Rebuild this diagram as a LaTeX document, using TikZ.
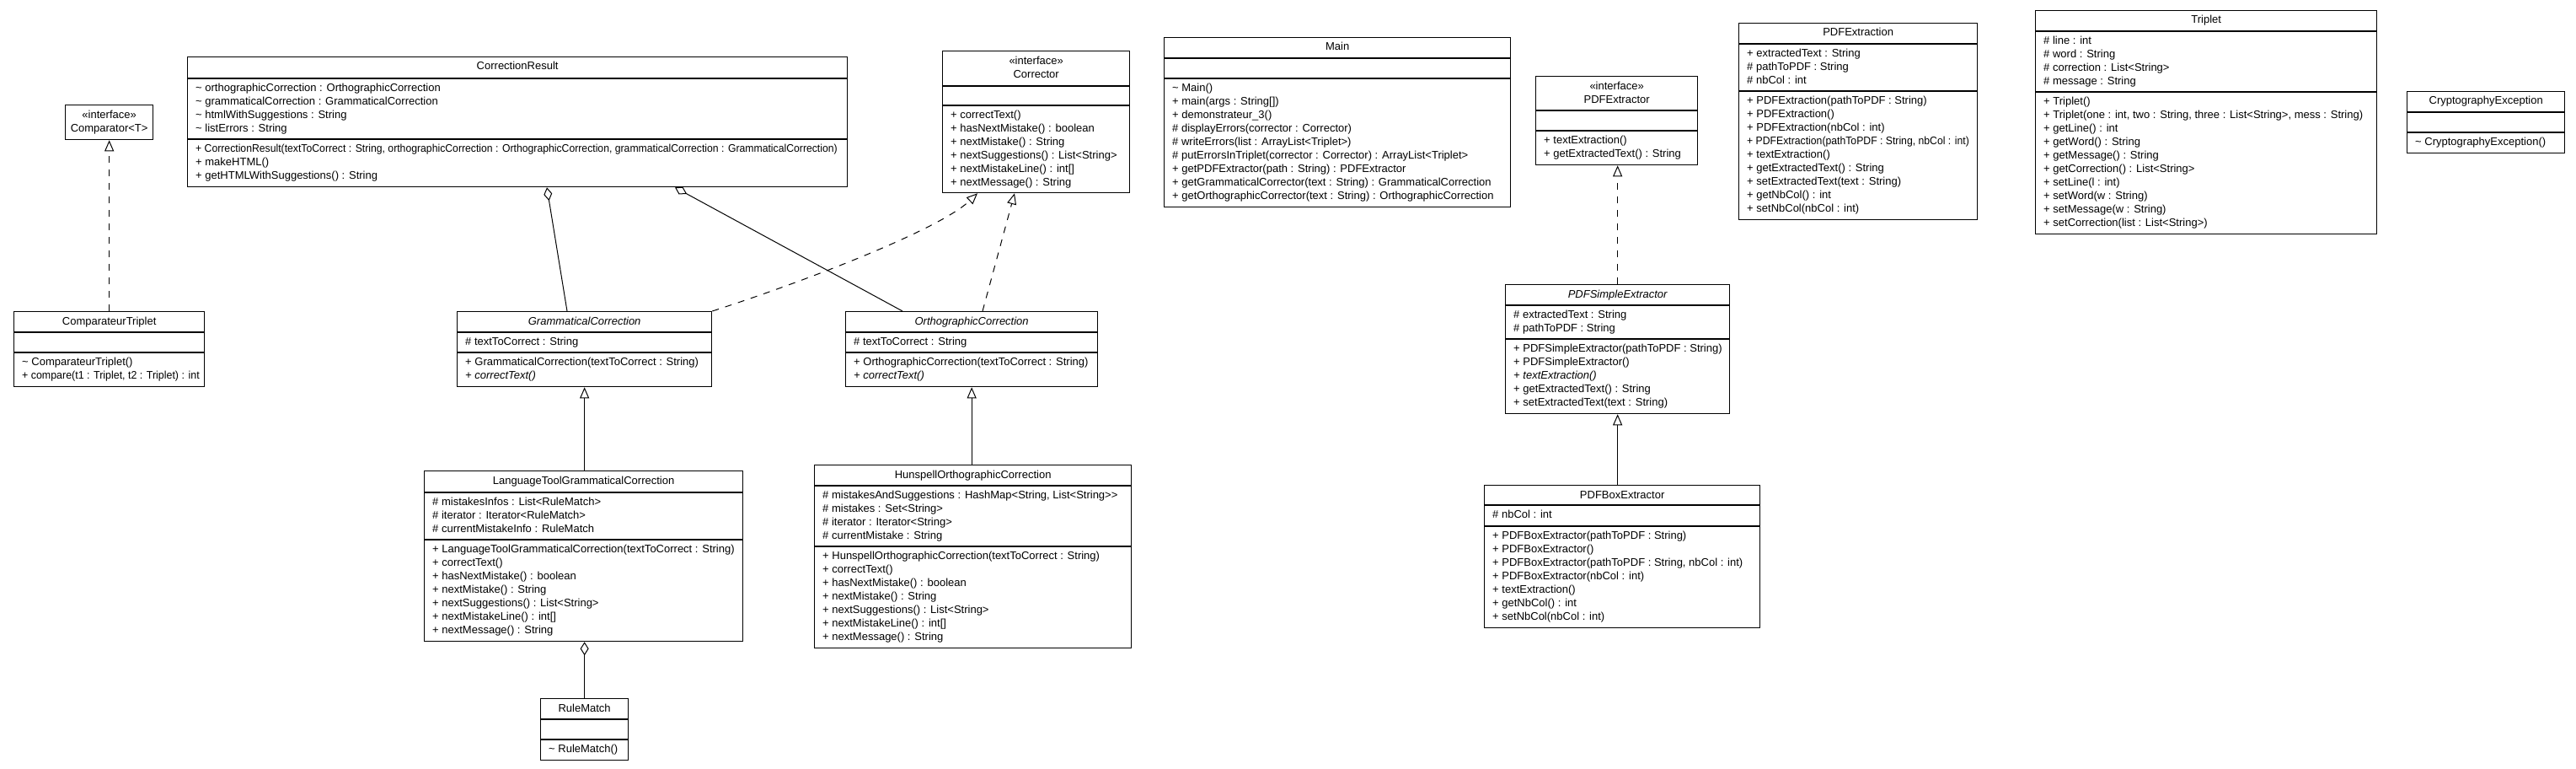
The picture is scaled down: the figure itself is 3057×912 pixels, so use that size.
\documentclass[tikz,border=0pt]{standalone}
\usepackage{fontspec}
\usepackage{graphicx}
\setmainfont{Liberation Sans}
\usetikzlibrary{arrows.meta}
\tikzset{
  cbox/.style={draw=black, line width=1.3pt, fill=white, inner sep=0pt, rectangle},
  cline/.style={line width=1.3pt},
  ctext/.style={inner sep=0pt, font=\fontsize{13}{16}\selectfont},
  inherit/.style={line width=1pt, -{Triangle[fill=white, length=13pt, width=11pt]}},
  realize/.style={inherit, dash pattern=on 8pt off 8pt},
  aggr/.style={line width=1pt, {Diamond[fill=white, length=16pt, width=10pt]}-},
}
% name, x1, x2, ytop, header h, attr h, meth h
\newcommand{\umlclass}[7]{%
  \pgfmathsetmacro{\cbw}{#3-#2}%
  \pgfmathsetmacro{\cbh}{#5+#6+#7}%
  \node[cbox, minimum width=\cbw pt, minimum height=\cbh pt, anchor=north west] (#1) at (#2,#4) {};%
  \ifnum#6>0 \draw[cline] (#2,#4+#5) -- (#3,#4+#5);\fi
  \ifnum#7>0 \draw[cline] (#2,#4+#5+#6) -- (#3,#4+#5+#6);\fi
}
\newcommand{\uhead}[2]{\node[ctext, anchor=base] (#1-h) at ([yshift=-16pt]#1.north) {#2};}
\newcommand{\uheadII}[2]{\node[ctext, anchor=base] (#1-h) at ([yshift=-16.5pt]#1.north) {\parbox[t]{400pt}{\centering «interface»\\#2}};}
\newcommand{\ulines}[4]{\node[ctext, anchor=base west] (#1-#2) at ([xshift=10pt,yshift={-(#3)*1pt}]#1.north west) {\parbox[t]{900pt}{\raggedright #4}};}
\newcommand{\tl}{\textasciitilde}
\newcommand{\squeeze}[2]{\scalebox{#1}[1]{#2}}
\begin{document}
\begin{tikzpicture}[x=1pt, y=-1pt]
\useasboundingbox (0,0) rectangle (3057,912);

% ---------- classes ----------
\umlclass{Comparator}{77}{181}{124}{41}{0}{0}
\uheadII{Comparator}{Comparator<T>}

\umlclass{CT}{16}{242}{369}{25}{24}{40}
\uhead{CT}{ComparateurTriplet}
\ulines{CT}{m}{64.5}{\tl{} ComparateurTriplet()\\\squeeze{0.955}{+ compare(t1 : Triplet, t2 : Triplet) : int}}

\umlclass{CR}{222}{1005}{67}{26}{72}{56}
\uhead{CR}{CorrectionResult}
\ulines{CR}{a}{41.5}{\tl{} orthographicCorrection : OrthographicCorrection\\\tl{} grammaticalCorrection : GrammaticalCorrection\\\tl{} htmlWithSuggestions : String\\\tl{} listErrors : String}
\ulines{CR}{m}{113.5}{\squeeze{0.94}{+ CorrectionResult(textToCorrect : String, orthographicCorrection : OrthographicCorrection, grammaticalCorrection : GrammaticalCorrection)}\\+ makeHTML()\\+ getHTMLWithSuggestions() : String}

\umlclass{Corrector}{1118}{1340}{60}{42}{23}{103}
\uheadII{Corrector}{Corrector}
\ulines{Corrector}{m}{80.5}{+ correctText()\\+ hasNextMistake() : boolean\\+ nextMistake() : String\\+ nextSuggestions() : List<String>\\+ nextMistakeLine() : int[]\\+ nextMessage() : String}

\umlclass{Main}{1381}{1792}{44}{25}{24}{152}
\uhead{Main}{Main}
\ulines{Main}{m}{64.5}{\tl{} Main()\\+ main(args : String[])\\+ demonstrateur\_3()\\\# displayErrors(corrector : Corrector)\\\# writeErrors(list : ArrayList<Triplet>)\\\# putErrorsInTriplet(corrector : Corrector) : ArrayList<Triplet>\\+ getPDFExtractor(path : String) : PDFExtractor\\+ getGrammaticalCorrector(text : String) : GrammaticalCorrection\\+ getOrthographicCorrector(text : String) : OrthographicCorrection}

\umlclass{PDFExtractor}{1822}{2014}{90}{41}{24}{40}
\uheadII{PDFExtractor}{PDFExtractor}
\ulines{PDFExtractor}{m}{80.5}{+ textExtraction()\\+ getExtractedText() : String}

\umlclass{PDFExtraction}{2063}{2346}{27}{25}{56}{152}
\uhead{PDFExtraction}{PDFExtraction}
\ulines{PDFExtraction}{a}{40.5}{+ extractedText : String\\\# pathToPDF : String\\\# nbCol : int}
\ulines{PDFExtraction}{m}{96.5}{+ PDFExtraction(pathToPDF : String)\\+ PDFExtraction()\\+ PDFExtraction(nbCol : int)\\\squeeze{0.94}{+ PDFExtraction(pathToPDF : String, nbCol : int)}\\+ textExtraction()\\+ getExtractedText() : String\\+ setExtractedText(text : String)\\+ getNbCol() : int\\+ setNbCol(nbCol : int)}

\umlclass{Triplet}{2415}{2820}{12}{25}{72}{168}
\uhead{Triplet}{Triplet}
\ulines{Triplet}{a}{40.5}{\# line : int\\\# word : String\\\# correction : List<String>\\\# message : String}
\ulines{Triplet}{m}{112.5}{+ Triplet()\\+ Triplet(one : int, two : String, three : List<String>, mess : String)\\+ getLine() : int\\+ getWord() : String\\+ getMessage() : String\\+ getCorrection() : List<String>\\+ setLine(l : int)\\+ setWord(w : String)\\+ setMessage(w : String)\\+ setCorrection(list : List<String>)}

\umlclass{Crypto}{2856}{3043}{108}{25}{24}{24}
\uhead{Crypto}{CryptographyException}
\ulines{Crypto}{m}{64.5}{\tl{} CryptographyException()}

\umlclass{Gramm}{542}{844}{369}{25}{24}{40}
\uhead{Gramm}{\itshape GrammaticalCorrection}
\ulines{Gramm}{a}{40.5}{\# textToCorrect : String}
\ulines{Gramm}{m}{64.5}{+ GrammaticalCorrection(textToCorrect : String)\\\textit{+ correctText()}}

\umlclass{Ortho}{1003}{1302}{369}{25}{24}{40}
\uhead{Ortho}{\itshape OrthographicCorrection}
\ulines{Ortho}{a}{40.5}{\# textToCorrect : String}
\ulines{Ortho}{m}{64.5}{+ OrthographicCorrection(textToCorrect : String)\\\textit{+ correctText()}}

\umlclass{LT}{503}{881}{558}{26}{56}{120}
\uhead{LT}{LanguageToolGrammaticalCorrection}
\ulines{LT}{a}{41.5}{\# mistakesInfos : List<RuleMatch>\\\# iterator : Iterator<RuleMatch>\\\# currentMistakeInfo : RuleMatch}
\ulines{LT}{m}{97.5}{+ LanguageToolGrammaticalCorrection(textToCorrect : String)\\+ correctText()\\+ hasNextMistake() : boolean\\+ nextMistake() : String\\+ nextSuggestions() : List<String>\\+ nextMistakeLine() : int[]\\+ nextMessage() : String}

\umlclass{Hun}{966}{1342}{551}{25}{72}{120}
\uhead{Hun}{HunspellOrthographicCorrection}
\ulines{Hun}{a}{40.5}{\# mistakesAndSuggestions : HashMap<String, List<String>{}>\\\# mistakes : Set<String>\\\# iterator : Iterator<String>\\\# currentMistake : String}
\ulines{Hun}{m}{112.5}{+ HunspellOrthographicCorrection(textToCorrect : String)\\+ correctText()\\+ hasNextMistake() : boolean\\+ nextMistake() : String\\+ nextSuggestions() : List<String>\\+ nextMistakeLine() : int[]\\+ nextMessage() : String}

\umlclass{RuleMatch}{641}{745}{828}{25}{24}{24}
\uhead{RuleMatch}{RuleMatch}
\ulines{RuleMatch}{m}{64.5}{\tl{} RuleMatch()}

\umlclass{PDFSimple}{1786}{2052}{337}{25}{40}{88}
\uhead{PDFSimple}{\itshape PDFSimpleExtractor}
\ulines{PDFSimple}{a}{40.5}{\# extractedText : String\\\# pathToPDF : String}
\ulines{PDFSimple}{m}{80.5}{+ PDFSimpleExtractor(pathToPDF : String)\\+ PDFSimpleExtractor()\\\textit{+ textExtraction()}\\+ getExtractedText() : String\\+ setExtractedText(text : String)}

\umlclass{PDFBox}{1761}{2088}{575}{24}{25}{120}
\uhead{PDFBox}{PDFBoxExtractor}
\ulines{PDFBox}{a}{39.5}{\# nbCol : int}
\ulines{PDFBox}{m}{64.5}{+ PDFBoxExtractor(pathToPDF : String)\\+ PDFBoxExtractor()\\+ PDFBoxExtractor(pathToPDF : String, nbCol : int)\\+ PDFBoxExtractor(nbCol : int)\\+ textExtraction()\\+ getNbCol() : int\\+ setNbCol(nbCol : int)}

% ---------- connectors ----------
\draw[realize] (CT.north) -- (Comparator.south);
\draw[aggr] ([xshift=427pt]CR.south west) -- ([xshift=131pt]Gramm.north west);
\draw[aggr] ([xshift=579pt]CR.south west) -- ([xshift=68pt]Ortho.north west);
\draw[realize] (Gramm.north east) .. controls (960,332) and (1115,272) .. ([xshift=42pt]Corrector.south west);
\draw[realize] ([xshift=163pt]Ortho.north west) -- ([xshift=86pt]Corrector.south west);
\draw[inherit] (LT.north -| Gramm.south) -- (Gramm.south);
\draw[inherit] (Hun.north -| Ortho.south) -- (Ortho.south);
\draw[aggr] (RuleMatch.north |- LT.south) -- (RuleMatch.north);
\draw[realize] (PDFSimple.north) -- (PDFSimple.north |- PDFExtractor.south);
\draw[inherit] (PDFBox.north -| PDFSimple.south) -- (PDFSimple.south);
\end{tikzpicture}
\end{document}
